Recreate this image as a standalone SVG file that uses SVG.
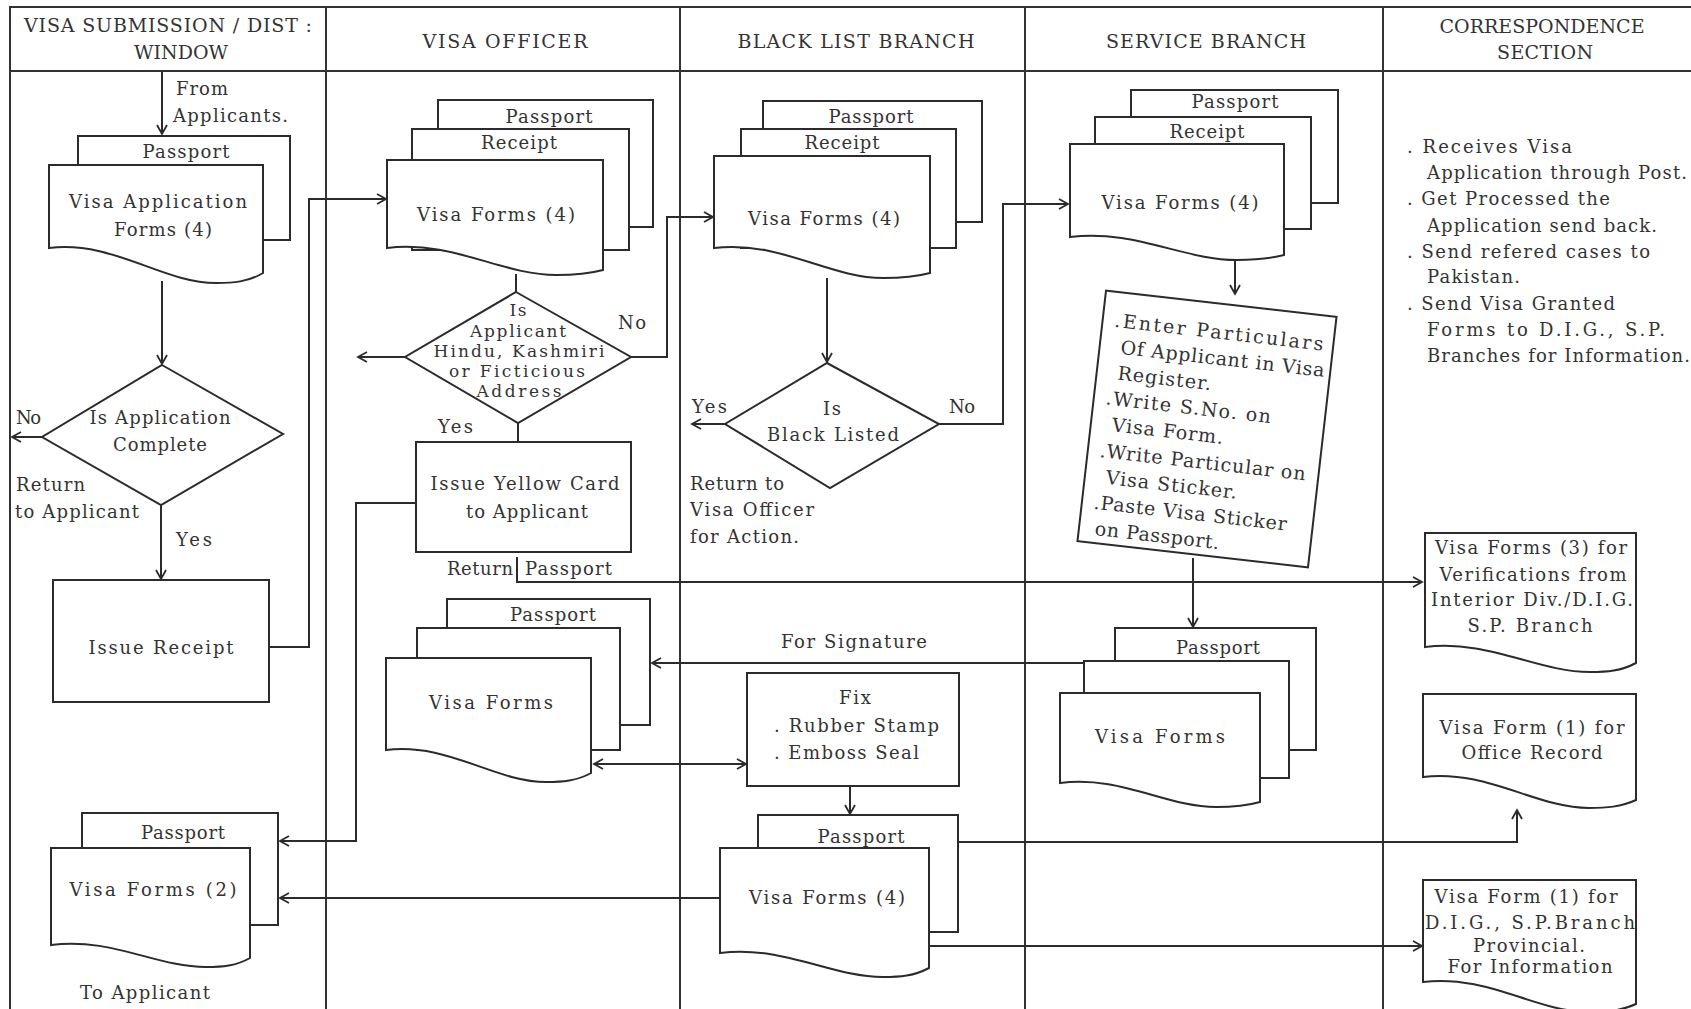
<svg xmlns="http://www.w3.org/2000/svg" width="1691" height="1009" viewBox="0 0 1691 1009">
<style>
.ln{fill:none;stroke:#2b2b2b;stroke-width:2}
.sh{fill:#fff;stroke:#2b2b2b;stroke-width:2}
.fr{fill:none;stroke:#333;stroke-width:2}
.t{font-family:"DejaVu Serif","Liberation Serif",serif;font-size:18px;fill:#333}
.h{font-size:19px}
.d{font-size:17px}
.c{text-anchor:middle}
.a{marker-end:url(#ah)}
</style>
<defs>
<marker id="ah" markerUnits="userSpaceOnUse" markerWidth="12" markerHeight="12" refX="10" refY="6" orient="auto-start-reverse">
<path d="M1,1 L10,6 L1,11" fill="none" stroke="#2b2b2b" stroke-width="1.8"/>
</marker>
</defs>
<rect width="1691" height="1009" fill="#fff"/>
<g id="frame">
<line class="fr" x1="9" y1="7" x2="1691" y2="7"/>
<line class="fr" x1="9" y1="71" x2="1691" y2="71"/>
<line class="fr" x1="10" y1="7" x2="10" y2="1009"/>
<line class="fr" x1="326" y1="7" x2="326" y2="1009"/>
<line class="fr" x1="680" y1="7" x2="680" y2="1009"/>
<line class="fr" x1="1025" y1="7" x2="1025" y2="1009"/>
<line class="fr" x1="1383" y1="7" x2="1383" y2="1009"/>
<text class="t h c" x="168" y="32" textLength="288">VISA SUBMISSION / DIST :</text>
<text class="t h c" x="181" y="59">WINDOW</text>
<text class="t h c" x="505" y="48" textLength="165">VISA OFFICER</text>
<text class="t h c" x="856" y="48" textLength="237">BLACK LIST BRANCH</text>
<text class="t h c" x="1206" y="48" textLength="200">SERVICE BRANCH</text>
<text class="t h c" x="1542" y="33" textLength="205">CORRESPONDENCE</text>
<text class="t h c" x="1545" y="59" textLength="96">SECTION</text>
</g>

<g id="n-from">
<text class="t" x="176" y="95" textLength="52">From</text>
<text class="t" x="173" y="122" textLength="115">Applicants.</text>
</g>
<g id="n-app-docs">
<rect class="sh" x="78" y="136" width="212" height="104"/>
<text class="t c" x="186" y="158" textLength="87">Passport</text>
<path class="sh" d="M49,165 H263 V273 C248,282 233,283 216,283 C162,283 113,240 49,248 Z"/>
<text class="t c" x="158" y="208" textLength="178">Visa Application</text>
<text class="t c" x="163" y="236" textLength="98">Forms (4)</text>
</g>
<g id="n-complete">
<polygon class="sh" points="162,365 283,434 161,505 42,437"/>
<text class="t c" x="160" y="424" textLength="141">Is Application</text>
<text class="t c" x="160" y="451" textLength="94">Complete</text>
</g>
<g id="n-return-app">
<text class="t" x="16" y="491" textLength="69">Return</text>
<text class="t" x="15" y="518" textLength="124">to Applicant</text>
</g>
<g id="n-receipt">
<rect class="sh" x="53" y="580" width="216" height="122"/>
<text class="t c" x="161" y="654" textLength="145">Issue Receipt</text>
</g>
<g id="n-out-docs">
<rect class="sh" x="82" y="813" width="196" height="112"/>
<text class="t c" x="183" y="839" textLength="84">Passport</text>
<path class="sh" d="M51,848 H250 V958 C236,966 222,967 206,967 C156,967 111,937 51,945 Z"/>
<text class="t c" x="153" y="896" textLength="167">Visa Forms (2)</text>
<text class="t c" x="145" y="999" textLength="130">To Applicant</text>
</g>

<g id="n-vo-docs">
<rect class="sh" x="438" y="100" width="215" height="127"/>
<text class="t c" x="549" y="123" textLength="87">Passport</text>
<rect class="sh" x="412" y="129" width="217" height="121"/>
<text class="t c" x="519" y="149" textLength="76">Receipt</text>
<path class="sh" d="M387,160 H603 V270 C588,274 573,275 556,275 C502,275 452,240 387,248 Z"/>
<text class="t c" x="496" y="221" textLength="158">Visa Forms (4)</text>
</g>
<g id="n-hindu">
<polygon class="sh" points="516,292 631,357 518,423 405,357"/>
<text class="t d c" x="518" y="316" textLength="17">Is</text>
<text class="t d c" x="518" y="337" textLength="96">Applicant</text>
<text class="t d c" x="519" y="357" textLength="171">Hindu, Kashmiri</text>
<text class="t d c" x="517" y="377" textLength="136">or Ficticious</text>
<text class="t d c" x="519" y="397" textLength="85">Address</text>
</g>
<g id="n-yellow">
<rect class="sh" x="416" y="442" width="215" height="110"/>
<text class="t c" x="525" y="490" textLength="189">Issue Yellow Card</text>
<text class="t c" x="527" y="518" textLength="122">to Applicant</text>
</g>
<g id="n-vo-sign">
<rect class="sh" x="447" y="599" width="203" height="126"/>
<text class="t c" x="553" y="621" textLength="86">Passport</text>
<rect class="sh" x="417" y="628" width="203" height="122"/>
<path class="sh" d="M386,658 H591 V773 C577,781 562,782 546,782 C495,782 447,742 386,750 Z"/>
<text class="t c" x="491" y="709" textLength="124">Visa Forms</text>
</g>

<g id="n-bl-docs">
<rect class="sh" x="763" y="101" width="219" height="121"/>
<text class="t c" x="871" y="123" textLength="85">Passport</text>
<rect class="sh" x="741" y="129" width="215" height="119"/>
<text class="t c" x="842" y="149" textLength="75">Receipt</text>
<path class="sh" d="M714,156 H930 V273 C915,277 900,278 883,278 C829,278 779,240 714,248 Z"/>
<text class="t c" x="824" y="225" textLength="152">Visa Forms (4)</text>
</g>
<g id="n-blacklisted">
<polygon class="sh" points="827,363 939,424 830,488 725,424"/>
<text class="t c" x="832" y="415" textLength="18">Is</text>
<text class="t c" x="833" y="441" textLength="132">Black Listed</text>
</g>
<g id="n-return-vo">
<text class="t" x="690" y="490" textLength="94">Return to</text>
<text class="t" x="690" y="516" textLength="124">Visa Officer</text>
<text class="t" x="690" y="543" textLength="109">for Action.</text>
</g>
<g id="n-fix">
<rect class="sh" x="747" y="673" width="212" height="113"/>
<text class="t c" x="855" y="704" textLength="32">Fix</text>
<text class="t" x="774" y="732" textLength="165">. Rubber Stamp</text>
<text class="t" x="774" y="759" textLength="145">. Emboss Seal</text>
</g>
<g id="n-bl-final">
<rect class="sh" x="758" y="815" width="200" height="117"/>
<text class="t c" x="861" y="843" textLength="87">Passport</text>
<path class="sh" d="M720,848 H929 V968 C914,976 900,977 883,977 C831,977 783,945 720,953 Z"/>
<text class="t c" x="827" y="904" textLength="156">Visa Forms (4)</text>
</g>

<g id="n-sv-docs">
<rect class="sh" x="1131" y="90" width="207" height="113"/>
<text class="t c" x="1235" y="108" textLength="87">Passport</text>
<rect class="sh" x="1095" y="117" width="216" height="112"/>
<text class="t c" x="1207" y="138" textLength="75">Receipt</text>
<path class="sh" d="M1070,144 H1284 V255 C1269,259 1254,260 1237,260 C1183,260 1134,229 1070,237 Z"/>
<text class="t c" x="1180" y="209" textLength="157">Visa Forms (4)</text>
</g>
<g id="n-register" transform="translate(1207,429) rotate(6.5)">
<rect class="sh" x="-116" y="-126" width="232" height="252"/>
<text class="t" style="font-size:19px" x="-104" y="-91" textLength="210">.Enter Particulars</text>
<text class="t" style="font-size:19px" x="-95" y="-65" textLength="205">Of Applicant in Visa</text>
<text class="t" style="font-size:19px" x="-95" y="-39" textLength="94">Register.</text>
<text class="t" style="font-size:19px" x="-104" y="-13" textLength="166">.Write S.No. on</text>
<text class="t" style="font-size:19px" x="-95" y="13" textLength="112">Visa Form.</text>
<text class="t" style="font-size:19px" x="-104" y="40" textLength="207">.Write Particular on</text>
<text class="t" style="font-size:19px" x="-95" y="66" textLength="132">Visa Sticker.</text>
<text class="t" style="font-size:19px" x="-104" y="92" textLength="194">.Paste Visa Sticker</text>
<text class="t" style="font-size:19px" x="-100" y="118" textLength="125">on Passport.</text>
</g>
<g id="n-sv-sign">
<rect class="sh" x="1115" y="628" width="201" height="122"/>
<text class="t c" x="1218" y="654" textLength="84">Passport</text>
<rect class="sh" x="1084" y="661" width="205" height="117"/>
<path class="sh" d="M1060,693 H1260 V802 C1246,806 1232,807 1216,807 C1166,807 1120,775 1060,783 Z"/>
<text class="t c" x="1160" y="743" textLength="130">Visa Forms</text>
</g>

<g id="n-corr-notes">
<text class="t" x="1407" y="153" textLength="165">. Receives Visa</text>
<text class="t" x="1427" y="179" textLength="260">Application through Post.</text>
<text class="t" x="1407" y="205" textLength="203">. Get Processed the</text>
<text class="t" x="1427" y="232" textLength="230">Application send back.</text>
<text class="t" x="1407" y="258" textLength="243">. Send refered cases to</text>
<text class="t" x="1427" y="283" textLength="93">Pakistan.</text>
<text class="t" x="1407" y="310" textLength="208">. Send Visa Granted</text>
<text class="t" x="1427" y="336" textLength="238">Forms to D.I.G., S.P.</text>
<text class="t" x="1427" y="362" textLength="263">Branches for Information.</text>
</g>
<g id="n-verif">
<path class="sh" d="M1425,533 H1636 V663 C1621,671 1607,672 1590,672 C1537,672 1488,639 1425,647 Z"/>
<text class="t c" x="1531" y="554" textLength="192">Visa Forms (3) for</text>
<text class="t c" x="1533" y="581" textLength="187">Verifications from</text>
<text class="t c" x="1532" y="606" textLength="202">Interior Div./D.I.G.</text>
<text class="t c" x="1530" y="632" textLength="125">S.P. Branch</text>
</g>
<g id="n-record">
<path class="sh" d="M1423,694 H1636 V800 C1621,807 1606,808 1589,808 C1536,808 1487,769 1423,777 Z"/>
<text class="t c" x="1532" y="734" textLength="185">Visa Form (1) for</text>
<text class="t c" x="1532" y="759" textLength="141">Office Record</text>
</g>
<g id="n-dig">
<path class="sh" d="M1423,880 H1636 V1004 C1621,1011 1606,1012 1589,1012 C1536,1012 1487,974 1423,982 Z"/>
<text class="t c" x="1526" y="903" textLength="183">Visa Form (1) for</text>
<text class="t c" x="1530" y="929" textLength="210">D.I.G., S.P.Branch</text>
<text class="t c" x="1529" y="952" textLength="112">Provincial.</text>
<text class="t c" x="1530" y="973" textLength="165">For Information</text>
</g>

<g id="connectors">
<path class="ln a" d="M162,72 V134"/>
<path class="ln a" d="M162,281 V364"/>
<path class="ln a" d="M42,437 H12"/>
<text class="t" x="16" y="424" textLength="25">No</text>
<path class="ln a" d="M161,505 V579"/>
<text class="t" x="176" y="546" textLength="36">Yes</text>
<path class="ln a" d="M269,647 H309 V199 H386"/>
<path class="ln" d="M516,274 V292"/>
<path class="ln a" d="M405,357 H358"/>
<path class="ln a" d="M631,357 H667 V217 H713"/>
<text class="t" x="618" y="329" textLength="28">No</text>
<path class="ln" d="M518,423 V442"/>
<text class="t" x="438" y="433" textLength="35">Yes</text>
<path class="ln a" d="M416,503 H356 V841 H280"/>
<path class="ln a" d="M517,557 V582 H1422"/>
<text class="t" x="447" y="575" textLength="66">Return</text>
<text class="t" x="525" y="575" textLength="87">Passport</text>
<path class="ln a" d="M827,278 V362"/>
<path class="ln a" d="M725,424 H692"/>
<text class="t" x="692" y="413" textLength="35">Yes</text>
<path class="ln a" d="M939,424 H1003 V204 H1068"/>
<text class="t" x="949" y="413" textLength="26">No</text>
<path class="ln a" d="M1235,259 V294"/>
<path class="ln a" d="M1193,558 V627"/>
<path class="ln a" d="M1084,663 H652"/>
<text class="t c" x="854" y="648" textLength="146">For Signature</text>
<path class="ln a" d="M594,764 H746" marker-start="url(#ah)"/>
<path class="ln a" d="M850,786 V814"/>
<path class="ln a" d="M720,898 H280"/>
<path class="ln a" d="M958,842 H1517 V810"/>
<path class="ln a" d="M929,946 H1422"/>
</g>
</svg>
